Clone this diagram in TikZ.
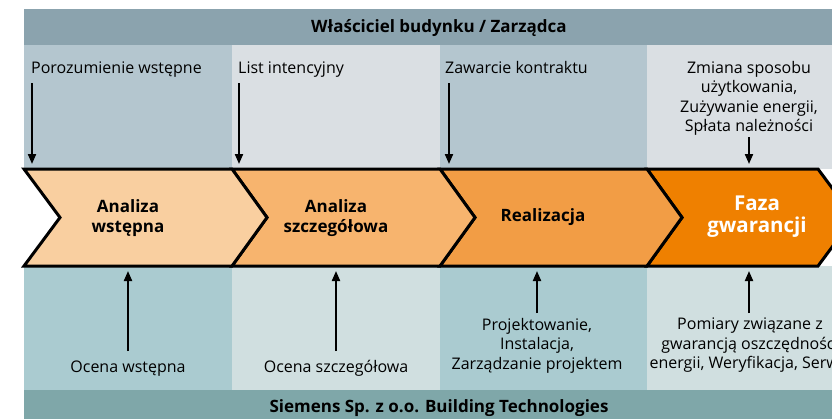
\documentclass[tikz,border=0pt]{standalone}
\usepackage{fontspec}
\setmainfont{Open Sans}
\usetikzlibrary{arrows.meta}
\definecolor{topband}{HTML}{8BA3AE}
\definecolor{upA}{HTML}{B4C6CF}
\definecolor{upB}{HTML}{DADFE3}
\definecolor{loA}{HTML}{AACBD0}
\definecolor{loB}{HTML}{D0DFE0}
\definecolor{botband}{HTML}{7FA7A9}
\definecolor{chA}{HTML}{F9CFA0}
\definecolor{chB}{HTML}{F7B46E}
\definecolor{chC}{HTML}{F29D45}
\definecolor{chD}{HTML}{EF8000}
\tikzset{
  lbl/.style={font=\fontsize{16}{19.5}\selectfont, inner sep=0pt, align=center},
  lblleft/.style={font=\fontsize{16}{19.5}\selectfont, inner sep=0pt, anchor=base west},
  hdr/.style={font=\fontsize{17}{18}\selectfont\bfseries, inner sep=0pt, anchor=base},
  phase/.style={font=\fontsize{17}{20}\selectfont\bfseries, inner sep=0pt, align=center},
  bigphase/.style={font=\fontsize{20.5}{22}\selectfont\bfseries, inner sep=0pt, align=center, text=white},
  chev/.style={draw=black, line width=3pt, line join=miter, miter limit=10},
  evt/.style={line width=2pt, -{Triangle[length=10pt,width=8pt]}}
}
\begin{document}
\begin{tikzpicture}[x=1pt,y=-1pt]
\useasboundingbox (0,0) rectangle (832,418);
\begin{scope}
\clip (0,0) rectangle (832,418);
% bands
\fill[topband] (24,9) rectangle (870,45);
\fill[botband] (24,390) rectangle (870,430);
% upper columns
\fill[upA] (24,45) rectangle (232,169);
\fill[upB] (232,45) rectangle (440,169);
\fill[upA] (440,45) rectangle (647,169);
\fill[upB] (647,45) rectangle (870,169);
% lower columns
\fill[loA] (24,266) rectangle (232,390);
\fill[loB] (232,266) rectangle (440,390);
\fill[loA] (440,266) rectangle (647,390);
\fill[loB] (647,266) rectangle (870,390);
% chevrons
\draw[chev, fill=chD] (647,169) -- (818,169) -- (854,217.5) -- (818,266) -- (647,266) -- (682,217.5) -- cycle;
\draw[chev, fill=chC] (440,169) -- (647,169) -- (682,217.5) -- (647,266) -- (440,266) -- (475,217.5) -- cycle;
\draw[chev, fill=chB] (232,169) -- (440,169) -- (475,217.5) -- (440,266) -- (232,266) -- (267,217.5) -- cycle;
\draw[chev, fill=chA] (24,169) -- (232,169) -- (267,217.5) -- (232,266) -- (24,266) -- (60,217.5) -- cycle;
% headers
\node[hdr] (owner) at (439,32) {Właściciel budynku / Zarządca};
\node[hdr] (siemens) at (439,412) {Siemens Sp. z o.o. Building Technologies};
% phases
\node[phase, anchor=north] (p1) at (128,199) {Analiza\\wstępna};
\node[phase, anchor=north] (p2) at (336,199) {Analiza\\szczegółowa};
\node[phase, anchor=base] (p3) at (543,221) {Realizacja};
\node[bigphase, anchor=north] (p4) at (757,196) {Faza\\gwarancji};
% top labels
\node[lblleft] (t1) at (31,73) {Porozumienie wstępne};
\node[lblleft] (t2) at (238,73) {List intencyjny};
\node[lblleft] (t3) at (445,73) {Zawarcie kontraktu};
\node[lbl, anchor=north] (t4) at (749,61) {Zmiana sposobu\\użytkowania,\\Zużywanie energii,\\Spłata należności};
\coordinate (a1s) at (32,83);  \coordinate (a1e) at (32,164);
\coordinate (a2s) at (239,83); \coordinate (a2e) at (239,164);
\coordinate (a3s) at (449,83); \coordinate (a3e) at (449,164);
\coordinate (a4s) at (749,137); \coordinate (a4e) at (749,164);
\draw[evt] (a1s) -- (a1e);
\draw[evt] (a2s) -- (a2e);
\draw[evt] (a3s) -- (a3e);
\draw[evt] (a4s) -- (a4e);
% bottom labels
\node[lbl, anchor=base] (b1) at (128,372) {Ocena wstępna};
\node[lbl, anchor=base] (b2) at (336,372) {Ocena szczegółowa};
\node[lbl, anchor=north] (b3) at (537,318) {Projektowanie,\\Instalacja,\\Zarządzanie projektem};
\node[lbl, anchor=north] (b4) at (750,318) {Pomiary związane z\\gwarancją oszczędności\\energii, Weryfikacja, Serwis};
\coordinate (c1s) at (128,351); \coordinate (c1e) at (128,271);
\coordinate (c2s) at (336,351); \coordinate (c2e) at (336,271);
\coordinate (c3s) at (537,313); \coordinate (c3e) at (537,271);
\coordinate (c4s) at (749,313); \coordinate (c4e) at (749,271);
\draw[evt] (c1s) -- (c1e);
\draw[evt] (c2s) -- (c2e);
\draw[evt] (c3s) -- (c3e);
\draw[evt] (c4s) -- (c4e);
\end{scope}
\end{tikzpicture}
\end{document}
